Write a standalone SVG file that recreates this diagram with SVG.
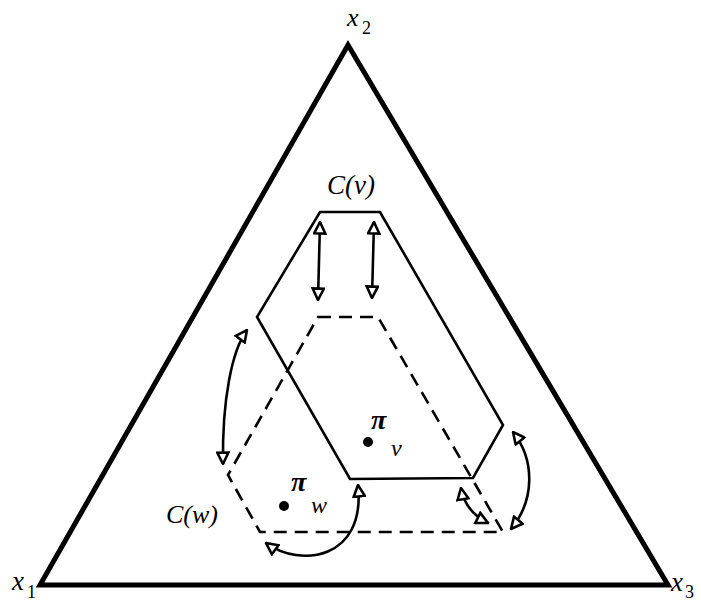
<svg xmlns="http://www.w3.org/2000/svg" width="701" height="602" viewBox="0 0 701 602">
  <style>
    .simplex { fill: none; stroke: #000; stroke-width: 5; stroke-linejoin: miter; }
    .cone { fill: none; stroke: #000; stroke-width: 2.6; stroke-linejoin: miter; }
    .cone-dash { stroke-dasharray: 13 8; }
    .flow { fill: none; stroke: #000; stroke-width: 2.6; marker-start: url(#head); marker-end: url(#head); }
    .lbl { font-family: "Liberation Serif", "Times New Roman", serif; font-style: italic; fill: #000; }
    .sub { font-family: "Liberation Serif", "Times New Roman", serif; fill: #000; }
  </style>
  <defs>
    <marker id="head" viewBox="0 0 12 12" refX="11" refY="6" markerWidth="14" markerHeight="14" markerUnits="userSpaceOnUse" orient="auto-start-reverse">
      <path d="M1.2,1.2 L11,6 L1.2,10.8 Z" fill="#fff" stroke="#000" stroke-width="2.2"/>
    </marker>
  </defs>
  <rect width="701" height="602" fill="#fff"/>

  <!-- simplex -->
  <g id="simplex">
    <polygon class="simplex" points="348,45 668,585 40,585"/>
  </g>

  <!-- vertex labels -->
  <g id="x1"><text class="lbl" x="12" y="590" font-size="27">x</text><text class="sub" x="27" y="598" font-size="18">1</text></g>
  <g id="x2"><text class="lbl" x="347" y="26" font-size="26">x</text><text class="sub" x="362" y="34" font-size="18">2</text></g>
  <g id="x3"><text class="lbl" x="671" y="591" font-size="27">x</text><text class="sub" x="685" y="598" font-size="18">3</text></g>

  <!-- C(v): solid region -->
  <g id="Cv">
    <polygon class="cone" points="320,212 380,212 503,425 473,478 350,479 257,317"/>
    <text class="lbl" x="327" y="194" font-size="27">C(v)</text>
  </g>

  <!-- C(w): dashed region -->
  <g id="Cw">
    <polygon class="cone cone-dash" points="318,317 378,317 503,532 260,532 228,475"/>
    <text class="lbl" x="166" y="523" font-size="26">C(w)</text>
  </g>

  <!-- points -->
  <g id="piv">
    <circle cx="368" cy="442" r="5" fill="#000"/>
    <text class="lbl" x="371" y="429" font-size="28" font-weight="bold">π</text>
    <text class="lbl" x="391" y="456" font-size="24">v</text>
  </g>
  <g id="piw">
    <circle cx="284" cy="506" r="5" fill="#000"/>
    <text class="lbl" x="291" y="491" font-size="28" font-weight="bold">π</text>
    <text class="lbl" x="311" y="513" font-size="24">w</text>
  </g>

  <!-- movement arrows -->
  <g id="connectors">
    <path class="flow" d="M320,222 L318,300"/>
    <path class="flow" d="M374,222 L372,298"/>
    <path class="flow" d="M247,330 C232,350 222,400 223,464"/>
    <path class="flow" d="M266,543 C300,568 366,560 358,485"/>
    <path class="flow" d="M461,488 C464,505 474,516 488,523"/>
    <path class="flow" d="M513,432 C535,460 535,500 511,529"/>
  </g>
</svg>
